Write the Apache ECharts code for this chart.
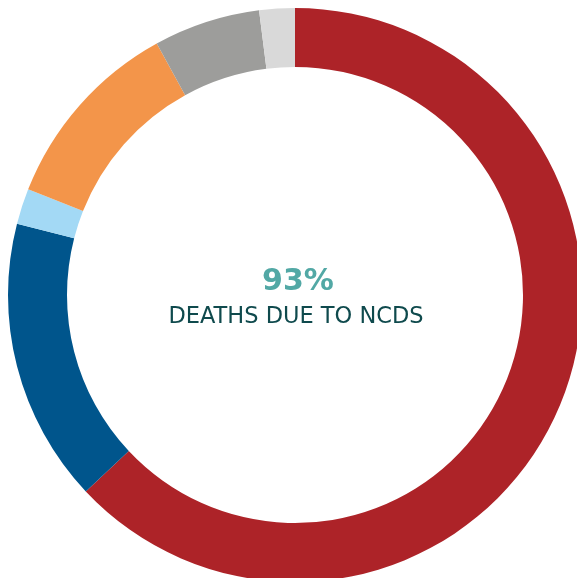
<!DOCTYPE html>
<html>
<head>
<meta charset="utf-8">
<script src="https://cdn.jsdelivr.net/npm/echarts@6/dist/echarts.min.js"></script>
<style>
html,body{margin:0;padding:0;background:#fff;}
#c{width:577px;height:578px;}
</style>
</head>
<body>
<div id="c"></div>
<script>
const categories = ['Cardiovascular diseases', 'Cancers', 'Chronic respiratory diseases', 'Other NCDs', 'Communicable, maternal, perinatal and nutritional conditions', 'Injuries'];
const values = [63, 16, 2, 11, 6, 2];
const colors = ['#AD2328', '#00558C', '#A3D9F5', '#F3954A', '#9D9D9B', '#D9D9D9'];
const headline = '93%';
const subline = 'DEATHS DUE TO NCDS';

const chart = echarts.init(document.getElementById('c'), null, {renderer: 'canvas'});
chart.setOption({
  animation: false,
  backgroundColor: '#ffffff',
  series: [{
    type: 'pie',
    center: [295, 295],
    radius: [228, 287],
    startAngle: 90,
    clockwise: true,
    silent: true,
    label: {show: false},
    labelLine: {show: false},
    itemStyle: {borderWidth: 0},
    emphasis: {disabled: true},
    data: categories.map((n, i) => ({name: n, value: values[i], itemStyle: {color: colors[i]}}))
  }],
  graphic: [
    {type: 'text', x: 298, y: 282, style: {text: headline, font: 'bold 30px "DejaVu Sans"', fill: '#52A8A5', textAlign: 'center', textVerticalAlign: 'middle'}},
    {type: 'text', x: 296, y: 317, style: {text: subline, font: '22.5px "DejaVu Sans"', fill: '#0F4A4D', textAlign: 'center', textVerticalAlign: 'middle'}}
  ]
});
</script>
</body>
</html>
